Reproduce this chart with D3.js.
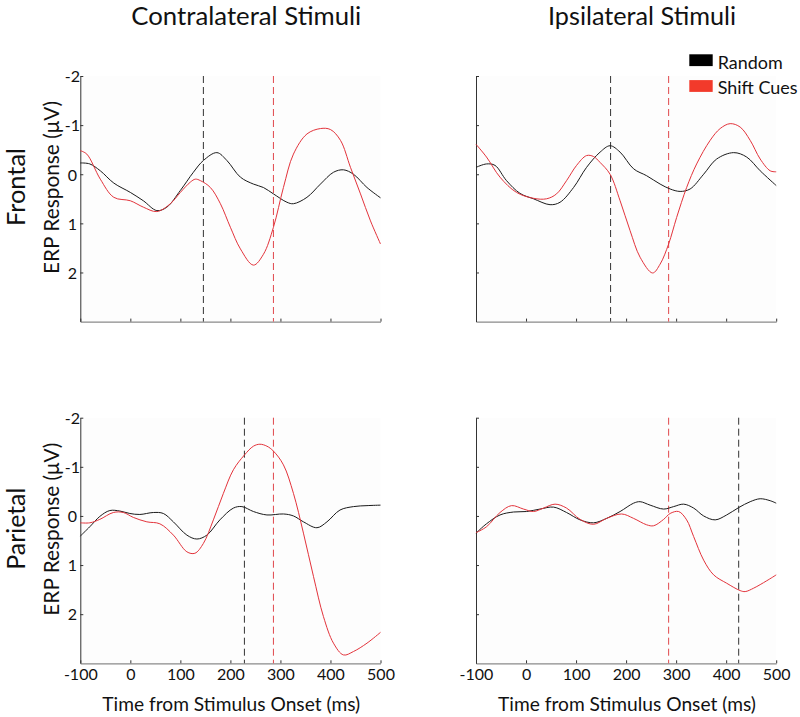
<!DOCTYPE html>
<html><head><meta charset="utf-8">
<script src="https://cdn.jsdelivr.net/npm/d3@7"></script>
<style>body{margin:0;background:#fff;} svg{display:block;font-family:Lato, "Open Sans", sans-serif;}</style>
</head><body>
<svg id="chart" width="800" height="717"></svg>
<script>
// ---------- DATA ----------
const columnTitles = ["Contralateral Stimuli", "Ipsilateral Stimuli"];
const rowTitles = ["Frontal", "Parietal"];
const seriesNames = ["Random", "Shift Cues"];
const xTicks = [-100, 0, 100, 200, 300, 400, 500];
const yTicks = [-2, -1, 0, 1, 2];

// [time (ms), ERP (µV)]
const frontalContraRandom = [[-100,-0.23],[-81,-0.21],[-60,-0.07],[-33,0.18],[0,0.37],[26,0.54],[53,0.74],[73,0.67],[100,0.33],[126,-0.04],[146,-0.28],[173,-0.44],[193,-0.28],[220,0.06],[246,0.2],[266,0.27],[286,0.4],[313,0.57],[326,0.6],[353,0.47],[380,0.2],[406,-0.04],[426,-0.09],[446,0],[473,0.27],[500,0.48]];
const frontalContraShift = [[-100,-0.48],[-87,-0.41],[-60,0.1],[-33,0.47],[0,0.54],[26,0.67],[53,0.76],[80,0.6],[100,0.37],[120,0.16],[130,0.1],[140,0.13],[160,0.27],[180,0.6],[200,1.08],[220,1.52],[246,1.85],[266,1.63],[286,1.08],[306,0.27],[326,-0.41],[353,-0.82],[380,-0.93],[400,-0.91],[420,-0.69],[440,-0.14],[460,0.4],[480,0.95],[500,1.42]];
const frontalIpsiRandom = [[-100,-0.14],[-79,-0.21],[-62,-0.18],[-39,0.13],[-12,0.39],[15,0.5],[48,0.62],[68,0.57],[95,0.27],[121,-0.14],[148,-0.45],[168,-0.58],[188,-0.45],[215,-0.11],[241,0.03],[268,0.2],[288,0.3],[308,0.35],[328,0.3],[355,0],[381,-0.31],[415,-0.44],[441,-0.35],[468,-0.07],[500,0.23]];
const frontalIpsiShift = [[-100,-0.61],[-79,-0.35],[-52,0.06],[-19,0.37],[15,0.49],[41,0.5],[61,0.4],[81,0.13],[101,-0.18],[121,-0.38],[135,-0.36],[148,-0.24],[168,0],[188,0.54],[208,1.15],[228,1.69],[253,2.01],[268,1.83],[285,1.42],[301,0.88],[321,0.27],[341,-0.21],[368,-0.69],[388,-0.93],[408,-1.03],[428,-0.96],[448,-0.69],[468,-0.31],[488,-0.07],[500,-0.05]];
const parietalContraRandom = [[-100,0.41],[-81,0.22],[-61,0.01],[-41,-0.11],[-21,-0.1],[-1,-0.05],[19,-0.03],[46,-0.07],[66,-0.05],[86,0.12],[113,0.39],[133,0.47],[153,0.39],[179,0.08],[206,-0.16],[223,-0.19],[246,-0.09],[273,-0.02],[306,-0.04],[326,0],[346,0.12],[373,0.24],[393,0.12],[419,-0.12],[446,-0.19],[473,-0.21],[500,-0.22]];
const parietalContraShift = [[-100,0.14],[-81,0.14],[-61,0.07],[-34,-0.07],[-14,-0.07],[6,0.03],[33,0.12],[59,0.16],[86,0.39],[113,0.73],[129,0.76],[146,0.56],[166,0.08],[186,-0.46],[206,-0.94],[228,-1.24],[246,-1.42],[259,-1.46],[273,-1.42],[286,-1.32],[306,-1.04],[326,-0.46],[346,0.35],[366,1.23],[386,2.05],[406,2.59],[426,2.83],[446,2.76],[473,2.59],[500,2.37]];
const parietalIpsiRandom = [[-100,0.35],[-79,0.16],[-52,-0.02],[-25,-0.08],[1,-0.09],[28,-0.14],[55,-0.18],[81,-0.07],[108,0.08],[135,0.14],[161,0.05],[188,-0.09],[215,-0.26],[228,-0.29],[248,-0.22],[275,-0.14],[295,-0.19],[315,-0.24],[335,-0.16],[355,0],[378,0.08],[401,-0.02],[425,-0.17],[448,-0.29],[468,-0.35],[488,-0.31],[500,-0.26]];
const parietalIpsiShift = [[-100,0.34],[-79,0.22],[-52,-0.07],[-29,-0.21],[-5,-0.14],[15,-0.09],[35,-0.16],[58,-0.24],[81,-0.16],[108,0.07],[135,0.17],[161,0.05],[191,-0.04],[215,0.05],[241,0.18],[255,0.2],[275,0.07],[288,-0.05],[305,-0.09],[321,0.08],[335,0.42],[355,0.9],[375,1.2],[401,1.37],[428,1.52],[438,1.54],[455,1.47],[481,1.32],[500,1.2]];

// Vertical marker latencies (ms): [Random, Shift Cues]
const frontalContraMarkers = [146, 286];
const frontalIpsiMarkers = [169, 285];
const parietalContraMarkers = [228, 286];
const parietalIpsiMarkers = [425, 285];

// ---------- LAYOUT ----------
const svg = d3.select("#chart");
const colX = [80.3, 476];
const rowY = [76, 417.7];
const pw = 300.2, ph = 245.6;
const colors = {random: "#1a1a1a", shift: "#e3333b"};
const legendColors = ["#000000", "#f23a2b"];

const panels = [
  {r:0,c:0,data:[frontalContraRandom, frontalContraShift], markers: frontalContraMarkers},
  {r:0,c:1,data:[frontalIpsiRandom, frontalIpsiShift], markers: frontalIpsiMarkers},
  {r:1,c:0,data:[parietalContraRandom, parietalContraShift], markers: parietalContraMarkers},
  {r:1,c:1,data:[parietalIpsiRandom, parietalIpsiShift], markers: parietalIpsiMarkers}
];

function fit(sel, target) {
  const node = sel.node();
  const fs = parseFloat(sel.attr("font-size"));
  const w = node.getComputedTextLength();
  const nfs = fs * target / w;
  sel.attr("font-size", nfs.toFixed(2));
  return nfs;
}
const plain = d => String(d);

panels.forEach(p => {
  const x0 = colX[p.c], y0 = rowY[p.r];
  const x = d3.scaleLinear().domain([-100, 500]).range([x0, x0 + pw]);
  const y = d3.scaleLinear().domain([-2, 3]).range([y0, y0 + ph]);
  const g = svg.append("g");

  g.append("rect").attr("x", x0).attr("y", y0).attr("width", pw).attr("height", ph).attr("fill", "#fdfdfd");

  // x axis (ticks inward)
  const xa = g.append("g").attr("transform", `translate(0,${y0 + ph})`)
    .call(d3.axisBottom(x).tickValues(xTicks).tickSizeInner(-3).tickSizeOuter(0)
      .tickFormat(p.r === 1 ? plain : () => ""));
  xa.select(".domain").attr("stroke", "#8a8a8a").attr("stroke-width", 1.2);
  xa.selectAll(".tick line").attr("stroke", "#333");
  xa.selectAll(".tick text").attr("font-size", 16).attr("fill", "#111")
    .attr("font-family", "Lato, sans-serif").attr("dy", 0).attr("y", 680.5 - (y0 + ph));

  // y axis
  const ya = g.append("g").attr("transform", `translate(${x0},0)`)
    .call(d3.axisLeft(y).tickValues(yTicks).tickSizeInner(-3).tickSizeOuter(0)
      .tickFormat(p.c === 0 ? plain : () => ""));
  ya.select(".domain").attr("stroke", "#333").attr("stroke-width", 1);
  ya.selectAll(".tick line").attr("stroke", "#333");
  ya.selectAll(".tick text").attr("font-size", 16).attr("fill", "#111")
    .attr("font-family", "Lato, sans-serif").attr("text-anchor", "middle").attr("x", -8).attr("dy", "0.36em");

  // markers
  p.markers.forEach((m, i) => {
    g.append("line").attr("x1", x(m)).attr("x2", x(m)).attr("y1", y0).attr("y2", y0 + ph)
      .attr("stroke", i === 0 ? "#333" : "#e0474c").attr("stroke-width", 1)
      .attr("stroke-dasharray", "7,4");
  });

  const line = d3.line().x(d => x(d[0])).y(d => y(d[1])).curve(d3.curveCatmullRom.alpha(0.5));
  g.append("path").datum(p.data[0]).attr("d", line).attr("fill", "none").attr("stroke", colors.random).attr("stroke-width", 1);
  g.append("path").datum(p.data[1]).attr("d", line).attr("fill", "none").attr("stroke", colors.shift).attr("stroke-width", 1);

  if (p.c === 0) {
    const yl = g.append("text").attr("transform", `translate(58.5,${y0 + 111.5}) rotate(-90)`)
      .attr("text-anchor", "middle").attr("font-size", 18).attr("fill", "#111").text("ERP Response (μV)");
    fit(yl, 173);
    const rl = g.append("text").attr("transform", `translate(25,${y0 + 111}) rotate(-90)`)
      .attr("text-anchor", "middle").attr("font-size", 24).attr("fill", "#111").text(rowTitles[p.r]);
    fit(rl, p.r === 0 ? 78 : 82);
  }
  if (p.r === 1) {
    const xl = g.append("text").attr("x", x0 + 151).attr("y", 711).attr("text-anchor", "middle")
      .attr("font-size", 18).attr("fill", "#111").text("Time from Stimulus Onset (ms)");
    fit(xl, 258);
  }
  if (p.r === 0) {
    const t = g.append("text").attr("x", x0 + 166).attr("y", 25).attr("text-anchor", "middle")
      .attr("font-size", 24).attr("fill", "#111").text(columnTitles[p.c]);
    fit(t, p.c === 0 ? 230 : 188);
  }
});

// legend
const lg = svg.append("g");
let legendSize = 17.5;
seriesNames.forEach((s, i) => {
  lg.append("rect").attr("x", 689.3).attr("y", 54.3 + i * 25.8).attr("width", 23.4).attr("height", 11.8).attr("fill", legendColors[i]);
  const t = lg.append("text").attr("x", 717.7).attr("y", 69.3 + i * 25.0).attr("font-size", legendSize).attr("fill", "#111").text(s);
  if (i === 0) legendSize = fit(t, 65); else t.attr("font-size", legendSize.toFixed(2));
});
</script>
</body></html>
